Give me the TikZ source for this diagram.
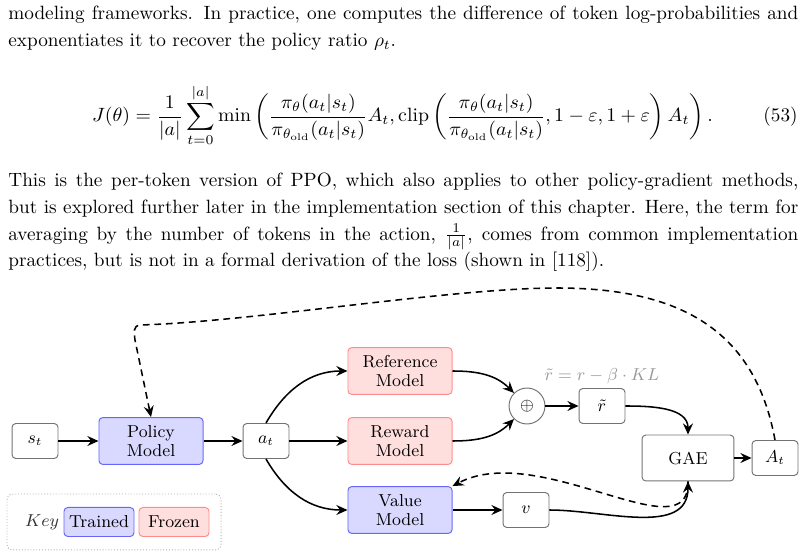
\documentclass[tikz,border=0pt]{standalone}
\usepackage{amsmath,amssymb}
\usepackage{graphicx}
\usetikzlibrary{arrows.meta}
\newcommand\dfont{\fontsize{9}{9.9}\selectfont}
\newcommand\bfnt{\fontsize{10}{13.8}\selectfont}
\newlength\tw
\setlength\tw{410.8pt}
\tikzset{
  boxbase/.style={rounded corners=2pt, line width=0.5pt, font=\dfont, inner sep=0pt, align=center},
  plain/.style={boxbase, draw=black!55, minimum width=23.9pt, minimum height=18.2pt},
  trained/.style={boxbase, draw=blue!60, fill=blue!15, minimum width=54.1pt, minimum height=24.4pt},
  frozen/.style={boxbase, draw=red!45, fill=red!13, minimum width=54.1pt, minimum height=24.4pt},
  gaebox/.style={boxbase, draw=black!55, minimum width=47.8pt, minimum height=23.9pt},
  circ/.style={circle, draw=black!55, line width=0.5pt, minimum size=18.7pt, inner sep=0pt, font=\dfont},
  lbl/.style={font=\dfont, text=black!40, inner sep=0pt},
  arr/.style={-{Stealth[length=5.8pt,width=5.2pt,inset=2pt]}, line width=0.8pt},
  dsh/.style={dash pattern=on 3.5pt off 2.5pt},
  keyframe/.style={draw=black!30, densely dotted, rounded corners=3pt, line width=0.5pt, minimum width=111.3pt, minimum height=29.1pt, inner sep=0pt},
  legendbox/.style={minimum width=36.4pt, minimum height=15.1pt}
}
\begin{document}
\begin{tikzpicture}[x=0.52pt, y=-0.52pt]
\useasboundingbox (0,0) rectangle (806,556);

% text
\node[anchor=base west, inner sep=0] (para1) at (8,20) {\parbox[t]{\tw}{\bfnt
\hbox to \tw{modeling frameworks. In practice, one computes the difference of token log-probabilities and}
\hbox{exponentiates it to recover the policy ratio $\rho_t$.}}};

\node[anchor=base, inner sep=0, font=\bfnt] (eq) at (402.5,122) {\resizebox{322.9pt}{\height}{$\displaystyle J(\theta)=\frac{1}{|a|}\sum_{t=0}^{|a|}\min\left(\frac{\pi_\theta(a_t|s_t)}{\pi_{\theta_{\text{old}}}(a_t|s_t)}A_t,\text{clip}\left(\frac{\pi_\theta(a_t|s_t)}{\pi_{\theta_{\text{old}}}(a_t|s_t)},1-\varepsilon,1+\varepsilon\right)A_t\right).$}};
\node[anchor=base east, inner sep=0, font=\bfnt] (eqn) at (798,122) {(53)};

\node[anchor=base west, inner sep=0] (para2) at (8,187) {\parbox[t]{\tw}{\bfnt
\hbox to \tw{This is the per-token version of PPO, which also applies to other policy-gradient methods,}
\hbox to \tw{but is explored further later in the implementation section of this chapter. Here, the term for}
\hbox to \tw{averaging by the number of tokens in the action, $\frac{1}{|a|}$, comes from common implementation}
\hbox{practices, but is not in a formal derivation of the loss (shown in [118]).}}};

% diagram nodes
\node[plain] (st) at (35,441) {$s_t$};
\node[trained] (policy) at (151,441) {Policy\\Model};
\node[plain] (at) at (266,441) {$a_t$};
\node[frozen] (ref) at (400,371) {Reference\\Model};
\node[frozen] (rew) at (400,441) {Reward\\Model};
\node[trained] (val) at (400,510) {Value\\Model};
\node[circ] (plus) at (527,406) {$\oplus$};
\node[plain] (rt) at (602,406) {$\tilde r$};
\node[lbl] (rlabel) at (602,376) {$\tilde r = r-\beta\cdot KL$};
\node[gaebox] (gae) at (688,458) {GAE};
\node[plain] (At) at (775,458) {$A_t$};
\node[plain] (v) at (526,510) {$v$};

% key
\node[keyframe] (key) at (114,522) {};
\node[font=\dfont, text=black!80, inner sep=0] (keyw) at (42,522) {$Key$};
\node[trained, legendbox] (tr) at (99,522) {Trained};
\node[frozen, legendbox] (fr) at (174,522) {Frozen};

% connectors
\draw[arr] (st) -- (policy);
\draw[arr] (policy) -- (at);
\draw[arr] (at.north) to[out=60,in=180] (ref.west);
\draw[arr] (at) -- (rew);
\draw[arr] (at.south) to[out=-60,in=180] (val.west);
\draw[arr] (ref.east) to[out=0,in=135] (plus);
\draw[arr] (rew.east) to[out=0,in=-135] (plus);
\draw[arr] (plus) -- (rt);
\draw[arr] (rt.east) to[out=0,in=90] (gae.north);
\draw[arr] (gae) -- (At);
\draw[arr] (val) -- (v);
\draw[arr] (v.east) to[out=0,in=-90] (gae.south);
\draw[arr,dsh] (gae.south) .. controls (690,555) and (540,440) .. (val.north east);

\coordinate (p1) at (557,288);
\coordinate (p2) at (140,325);
\coordinate (p3) at (135,340);
\draw[arr,dsh] (At.north) .. controls (755,330) and (680,288) .. (p1)
  .. controls (450,288) and (250,322) .. (p2)
  .. controls (133,326) and (134,332) .. (p3) -- (policy.north);
\end{tikzpicture}
\end{document}
